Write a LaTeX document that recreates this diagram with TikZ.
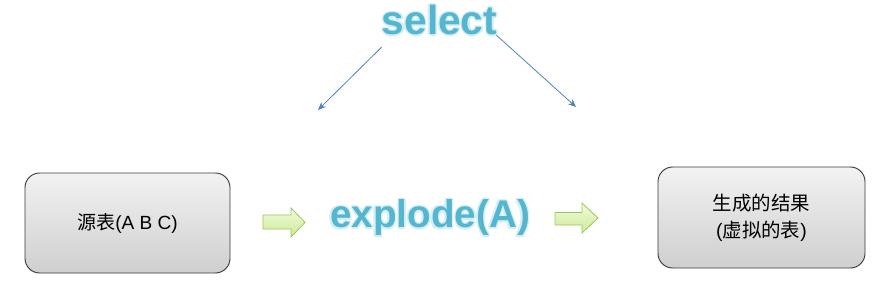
\documentclass[tikz,border=0pt]{standalone}
\usepackage{fontspec}
\setmainfont{Liberation Sans}
\newfontfamily\cjk{Noto Sans CJK SC}
\usetikzlibrary{arrows.meta}
\definecolor{titleblue}{HTML}{55B6CF}
\definecolor{haloblue}{HTML}{D6EEF5}
\definecolor{linkblue}{HTML}{4F80C2}
\definecolor{boxtop}{HTML}{F2F2F2}
\definecolor{boxbottom}{HTML}{CFCFCF}
\definecolor{boxline}{HTML}{3A3A3A}
\definecolor{arrowtop}{HTML}{F2FBDD}
\definecolor{arrowbottom}{HTML}{CDEA96}
\definecolor{arrowline}{HTML}{9CC55E}
\begin{document}
\begin{tikzpicture}[x=0.75pt,y=-0.75pt,
  tablebox/.style={draw=boxline, line width=0.7pt, rounded corners=11pt,
    top color=boxtop, bottom color=boxbottom, align=center, inner sep=0pt},
  keyword/.style={font=\bfseries\fontsize{29}{33}\selectfont, text=titleblue, inner sep=0pt},
  bigkeyword/.style={keyword, font=\bfseries\fontsize{30.5}{34}\selectfont},
  pointer/.style={draw=linkblue, line width=0.6pt, -{Stealth[length=6pt,width=5pt]}},
  flowarrow/.style={draw=arrowline, line width=0.6pt, top color=arrowtop, bottom color=arrowbottom}
]
\useasboundingbox (0,0) rectangle (885,296);

% tables
\node[tablebox, minimum width=153.75pt, minimum height=75pt,
      font=\fontsize{14.3}{17}\selectfont] (src) at (127.5,223) {{\cjk 源表}(A B C)};
\node[tablebox, minimum width=155.25pt, minimum height=75.75pt,
      font=\fontsize{14.6}{20.5}\selectfont] (res) at (761.5,217.5)
      {{\cjk 生成的结果}\\({\cjk 虚拟的表})};

% soft halo behind the keywords
\foreach \dx/\dy in {-1.5/0,1.5/0,0/-1.5,0/1.5,1.2/1.2,-1.2/1.2,1.2/-1.2,-1.2/-1.2}{
  \node[keyword, text=haloblue] at (430+\dx,218+\dy) {explode(A)};
  \node[bigkeyword, text=haloblue] at (439.5+\dx,20+\dy) {select};
}
% keywords
\node[keyword] (explode) at (430,218) {explode(A)};
\node[bigkeyword] (select) at (439.5,20) {select};

% flow arrows
\draw[flowarrow] (263,215) -- (291,215) -- (291,208) -- (305,222.5)
  -- (291,237) -- (291,229) -- (263,229) -- cycle;
\draw[flowarrow] (555,212.5) -- (582,212.5) -- (582,203) -- (598,218)
  -- (582,233) -- (582,225) -- (555,225) -- cycle;
\coordinate (leftin) at (318,110);
\coordinate (rightin) at (576,107);

% select feeds both steps
\draw[pointer] (select.south west) ++(0,12) coordinate (sl) -- (leftin);
\draw[pointer] (select.south east) ++(-1,0) coordinate (sr) -- (rightin);
\end{tikzpicture}
\end{document}
